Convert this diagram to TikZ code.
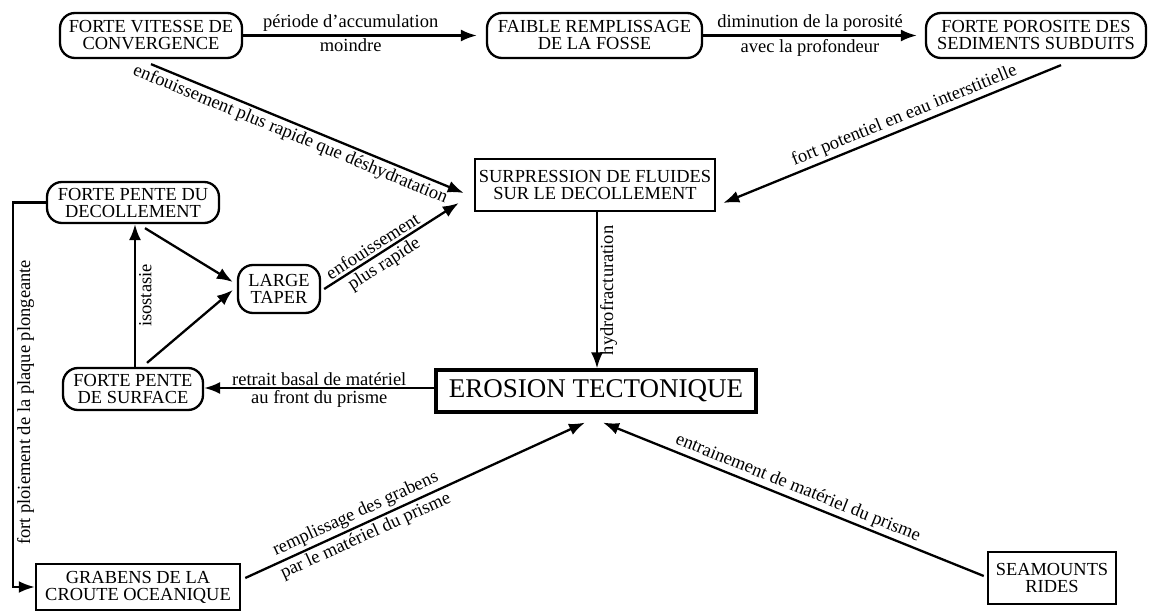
\documentclass[tikz,border=0pt]{standalone}
\usepackage{fontspec}
\setmainfont{Liberation Serif}
\usetikzlibrary{arrows.meta}
\begin{document}
\begin{tikzpicture}[x=1pt,y=-1pt,
  nf/.style={font=\fontsize{18.4}{17}\selectfont},
  lf/.style={font=\fontsize{18.5}{18}\selectfont},
  rbox/.style={draw, line width=2.3pt, rounded corners=15pt, align=center, inner sep=0pt, nf},
  sbox/.style={draw, line width=2.5pt, align=center, inner sep=0pt, nf},
  conn/.style={line width=2.3pt, -{Latex[length=16pt,width=12pt]}},
  lab/.style={lf, inner sep=2.5pt},
  vlab/.style={lf, rotate=90, anchor=north, inner sep=3pt},
]
\path[use as bounding box] (0,0) rectangle (1160,612);

\node[rbox, minimum width=182pt, minimum height=45pt] (conv) at (151,35.5) {FORTE VITESSE DE\\CONVERGENCE};
\node[rbox, minimum width=215pt, minimum height=45pt] (fosse) at (594.5,35.5) {FAIBLE REMPLISSAGE\\DE LA FOSSE};
\node[rbox, minimum width=220pt, minimum height=45pt] (poro) at (1036,35.5) {FORTE POROSITE DES\\SEDIMENTS SUBDUITS};
\node[sbox, minimum width=240pt, minimum height=52pt] (surp) at (595,185) {SURPRESSION DE FLUIDES\\SUR LE DECOLLEMENT};
\node[rbox, minimum width=172pt, minimum height=41pt] (pdec) at (133,202.5) {FORTE PENTE DU\\DECOLLEMENT};
\node[rbox, minimum width=82pt, minimum height=48pt] (taper) at (279,289) {LARGE\\TAPER};
\node[rbox, minimum width=140pt, minimum height=42pt] (psurf) at (133,389) {FORTE PENTE\\DE SURFACE};
\node[draw, line width=3.2pt, minimum width=320pt, minimum height=42pt, inner sep=0pt, font=\fontsize{27}{29}\selectfont] (eros) at (596,391) {EROSION TECTONIQUE};
\node[sbox, minimum width=204pt, minimum height=46pt] (grab) at (138,587) {GRABENS DE LA\\CROUTE OCEANIQUE};
\node[sbox, minimum width=128pt, minimum height=52pt] (seam) at (1052,578) {SEAMOUNTS\\RIDES};

\draw[conn] (conv.east) -- ([xshift=-9pt]fosse.west)
  node[lab, pos=0.46, above] {période d'accumulation}
  node[lab, pos=0.46, below] {moindre};
\draw[conn] (fosse.east) -- ([xshift=-8pt]poro.west)
  node[lab, midway, above] {diminution de la porosité}
  node[lab, midway, below] {avec la profondeur};
\draw[conn] ([xshift=0pt,yshift=-5pt]conv.south) -- ([xshift=-10pt,yshift=-8pt]surp.west)
  node[lab, pos=0.46, sloped, below] {enfouissement plus rapide que déshydratation};
\draw[conn] ([xshift=25pt,yshift=-6pt]poro.south) -- ([xshift=7pt,yshift=-18pt]surp.east)
  node[lab, pos=0.45, sloped, above] {fort potentiel en eau interstitielle};
\draw[conn] ([xshift=3pt]taper.east) -- ([xshift=-15pt,yshift=-18pt]surp.west)
  node[lab, pos=0.4, sloped, above] {enfouissement}
  node[lab, pos=0.4, sloped, below] {plus rapide};
\draw[conn] ([xshift=12pt,yshift=-4pt]pdec.south) -- ([xshift=-4pt,yshift=7pt]taper.west);
\draw[conn] ([xshift=14pt,yshift=4pt]psurf.north) -- ([xshift=-4pt,yshift=-1pt]taper.west);
\draw[conn] ([xshift=2pt]psurf.north) -- ([xshift=2pt]pdec.south)
  node[vlab, midway] {isostasie};
\draw[conn] ([xshift=2pt]surp.south) -- ([xshift=1pt]eros.north)
  node[vlab, midway, inner sep=2pt] {hydrofracturation};
\draw[conn] ([yshift=3pt]eros.west) -- ([yshift=3pt]eros.west -| psurf.east)
  node[lab, midway, above, inner sep=1pt] {retrait basal de matériel}
  node[lab, midway, below, inner sep=1pt] {au front du prisme};
\draw[conn] (pdec.west) -- ++(-33pt,0) |- (grab.west)
  node[vlab, pos=0.26] {fort ploiement de la plaque plongeante};
\draw[conn] ([xshift=4pt,yshift=9pt]grab.east) -- ([xshift=-11pt,yshift=-9pt]eros.south)
  node[lab, pos=0.34, sloped, above] {remplissage des grabens}
  node[lab, pos=0.34, sloped, below] {par le matériel du prisme};
\draw[conn] ([xshift=-3pt,yshift=2pt]seam.west) -- ([xshift=7pt,yshift=-9pt]eros.south)
  node[lab, pos=0.5, sloped, above] {entrainement de matériel du prisme};
\end{tikzpicture}
\end{document}
